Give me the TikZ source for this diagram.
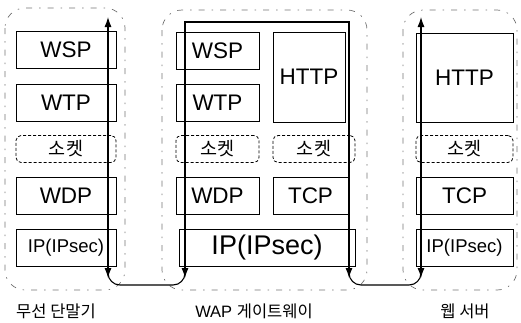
\documentclass[tikz,border=0pt]{standalone}
\usepackage{fontspec}
\setmainfont{Liberation Sans}
\newfontfamily\kr{Noto Sans CJK KR}
\usetikzlibrary{arrows.meta}

\begin{document}
\begin{tikzpicture}[
    x=1pt, y=-1pt,
    font=\fontsize{22.5}{26}\selectfont,
    layer/.style={
        draw,
        line width=0.9pt,
        inner sep=0pt,
        minimum height=37pt,
        align=center
    },
    sock/.style={
        draw,
        line width=0.8pt,
        dash pattern=on 3pt off 2pt,
        rounded corners=5pt,
        inner sep=0pt,
        minimum height=27pt,
        font=\kr\fontsize{18.5}{20}\selectfont
    },
    group/.style={
        draw=black!55,
        line width=0.7pt,
        dash pattern=on 6pt off 7pt on 1.5pt off 7pt,
        rounded corners=20pt
    },
    flow/.style={line width=1.1pt, {Latex[length=10pt,width=7pt]}-{Latex[length=10pt,width=7pt]}},
    link/.style={line width=1.1pt, rounded corners=12pt},
    caption/.style={font=\fontsize{16.5}{18}\selectfont}
]
\useasboundingbox (0,0) rectangle (521,322);

\draw[group] (5,8) rectangle (125,290);
\draw[group] (162,10) rectangle (367,290);
\draw[group] (403,10) rectangle (517,290);

\node[layer, minimum width=100pt] (dwsp) at (66,50) {WSP};
\node[layer, minimum width=100pt] (dwtp) at (66,102.5) {WTP};
\node[sock, minimum width=100pt] (dsock) at (66,149) {소켓};
\node[layer, minimum width=100pt] (dwdp) at (66,196) {WDP};
\node[layer, minimum width=100pt, font=\fontsize{18.5}{20}\selectfont] (dip) at (66,247.5) {IP(IPsec)};

\node[layer, minimum width=83pt] (gwsp) at (217.5,51) {WSP};
\node[layer, minimum width=83pt] (gwtp) at (217.5,102.5) {WTP};
\node[sock, minimum width=83pt] (gsockl) at (217.5,149) {소켓};
\node[layer, minimum width=83pt] (gwdp) at (217.5,196) {WDP};
\node[layer, minimum width=72pt, minimum height=90pt] (ghttp) at (309,77) {HTTP};
\node[sock, minimum width=82pt] (gsockr) at (314,149) {소켓};
\node[layer, minimum width=75pt] (gtcp) at (310.5,196) {TCP};
\node[layer, minimum width=176pt, font=\fontsize{27}{30}\selectfont] (gip) at (267,247.5) {IP(IPsec)};

\node[layer, minimum width=97pt, minimum height=89pt] (shttp) at (464.5,77.5) {HTTP};
\node[sock, minimum width=97pt] (ssock) at (464.5,149) {소켓};
\node[layer, minimum width=97pt] (stcp) at (464.5,196) {TCP};
\node[layer, minimum width=97pt, font=\fontsize{18.5}{20}\selectfont] (sip) at (464.5,247.5) {IP(IPsec)};

\coordinate (devT) at (108,17);
\coordinate (devB) at (108,278);
\coordinate (gwL) at (185,278);
\coordinate (gwR) at (349,278);
\coordinate (gwTop) at (267,22);
\coordinate (srvT) at (421,17);
\coordinate (srvB) at (421,278);

\draw[flow] (devT) -- (devB);
\draw[flow] (gwL) |- (gwTop) -| (gwR);
\draw[flow] (srvT) -- (srvB);

\coordinate (devJ) at (108,262);
\coordinate (gwLJ) at (185,264);
\coordinate (gwRJ) at (349,264);
\coordinate (srvJ) at (421,264);
\coordinate (linkA) at (146,285);
\coordinate (linkB) at (385,285);

\draw[link] (devJ) |- (linkA) -| (gwLJ);
\draw[link] (gwRJ) |- (linkB) -| (srvJ);

\node[caption] (devname) at (56,311) {\kr 무선 단말기};
\node[caption] (gwname) at (254,311) {WAP {\kr 게이트웨이}};
\node[caption] (srvname) at (465,311) {\kr 웹 서버};

\end{tikzpicture}
\end{document}
